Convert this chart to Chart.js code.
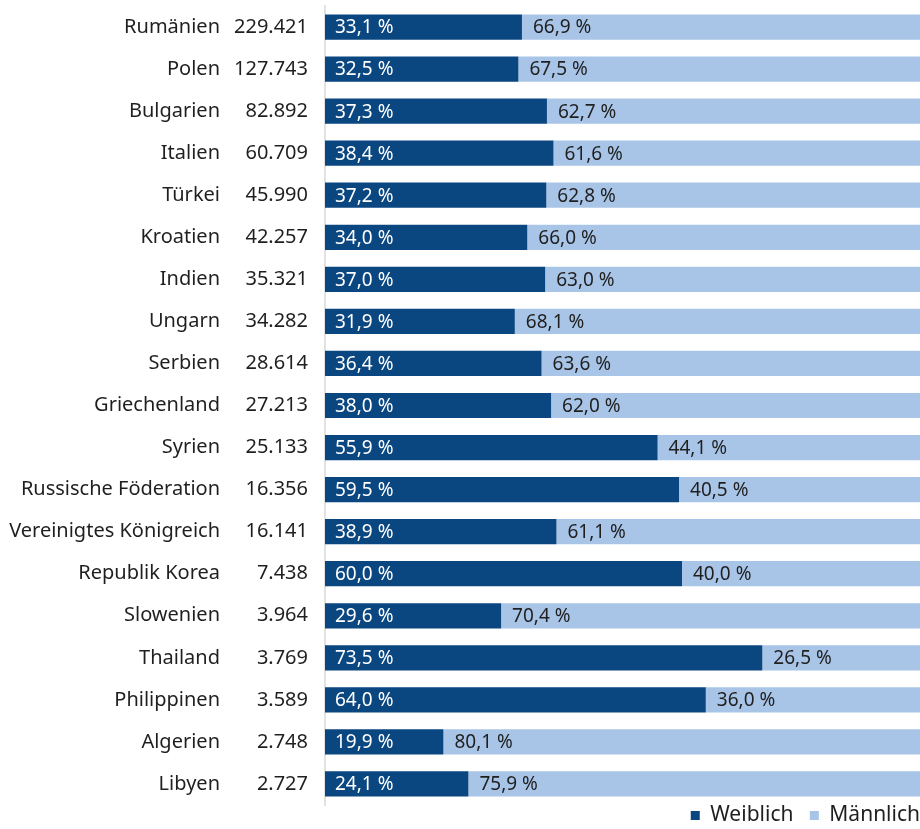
<!DOCTYPE html>
<html>
<head>
<meta charset="utf-8">
<script src="https://cdn.jsdelivr.net/npm/chart.js@4"></script>
<style>
  html, body { margin: 0; padding: 0; background: #ffffff; }
  #wrap { width: 920px; height: 829px; }
</style>
</head>
<body>
<div id="wrap"><canvas id="chart"></canvas></div>
<script>
// --- Data ---
const countries = [
    'Rumänien', 'Polen', 'Bulgarien', 'Italien', 'Türkei', 'Kroatien', 'Indien',
    'Ungarn', 'Serbien', 'Griechenland', 'Syrien', 'Russische Föderation',
    'Vereinigtes Königreich', 'Republik Korea', 'Slowenien', 'Thailand',
    'Philippinen', 'Algerien', 'Libyen'
];
const totals = [
    229421, 127743, 82892, 60709, 45990, 42257, 35321, 34282, 28614, 27213,
    25133, 16356, 16141, 7438, 3964, 3769, 3589, 2748, 2727
];
const female = [
    33.1, 32.5, 37.3, 38.4, 37.2, 34.0, 37.0, 31.9, 36.4, 38.0,
    55.9, 59.5, 38.9, 60.0, 29.6, 73.5, 64.0, 19.9, 24.1
];
const male = [
    66.9, 67.5, 62.7, 61.6, 62.8, 66.0, 63.0, 68.1, 63.6, 62.0,
    44.1, 40.5, 61.1, 40.0, 70.4, 26.5, 36.0, 80.1, 75.9
];

const fontFamily = '"Noto Sans", sans-serif';
const textColor = '#1f1f1f';
const darkBlue = '#0a4680';
const lightBlue = '#a8c5e8';

// thousands separator with a dot
const fmtTotal = n => String(n).replace(/\B(?=(\d{3})+(?!\d))/g, '.');
const fmtPct = v => v.toFixed(1).replace('.', ',') + ' %';

// fixed width for the label columns, and no extra top/bottom padding from the tick labels
const fixAxis = width => scale => {
    scale.width = width;
    scale.paddingTop = 0;
    scale.paddingBottom = 0;
};

// draws the percentage text at the start of each bar segment
const barLabels = {
    id: 'barLabels',
    afterDatasetsDraw(chart) {
        const ctx = chart.ctx;
        ctx.save();
        ctx.font = '19px ' + fontFamily;
        ctx.textBaseline = 'middle';
        ctx.textAlign = 'left';
        chart.data.datasets.forEach((ds, i) => {
            const meta = chart.getDatasetMeta(i);
            ctx.fillStyle = i === 0 ? '#ffffff' : textColor;
            meta.data.forEach((bar, j) => {
                ctx.fillText(fmtPct(ds.data[j]), bar.base + (i === 0 ? 10 : 11), bar.y + 1);
            });
        });
        ctx.restore();
    }
};

new Chart(document.getElementById('chart'), {
    type: 'bar',
    data: {
        labels: countries,
        datasets: [
            { label: 'Weiblich', data: female, backgroundColor: darkBlue, borderWidth: 0 },
            { label: 'Männlich', data: male, backgroundColor: lightBlue, borderWidth: 0 }
        ]
    },
    options: {
        indexAxis: 'y',
        responsive: true,
        maintainAspectRatio: false,
        animation: false,
        layout: { padding: { top: 6, right: 0, left: 0, bottom: -7 } },
        categoryPercentage: 1,
        barPercentage: 0.6,
        scales: {
            x: { display: false, stacked: true, min: 0, max: 100 },
            y: {
                stacked: true,
                position: 'left',
                weight: 1,
                grid: { display: false, drawTicks: false },
                border: { display: false },
                ticks: { color: textColor, font: { family: fontFamily, size: 20 }, padding: 5 },
                afterFit: fixAxis(225)
            },
            y2: {
                type: 'category',
                position: 'left',
                weight: 0,
                offset: true,
                labels: totals.map(fmtTotal),
                grid: { display: false, drawTicks: false },
                border: { display: true, color: '#e2e2e2', width: 2 },
                ticks: { color: textColor, font: { family: fontFamily, size: 20 }, padding: 17 },
                afterFit: fixAxis(100)
            }
        },
        plugins: {
            tooltip: { enabled: false },
            legend: {
                position: 'bottom',
                align: 'end',
                labels: {
                    color: textColor,
                    font: { family: fontFamily, size: 21 },
                    usePointStyle: true,
                    pointStyle: 'rect',
                    boxWidth: 9,
                    boxHeight: 9,
                    padding: 0,
                    // a little room between the two legend entries
                    generateLabels(chart) {
                        const items = Chart.defaults.plugins.legend.labels.generateLabels(chart);
                        items[0].text += '   ';
                        return items;
                    }
                }
            }
        }
    },
    plugins: [barLabels]
});
</script>
</body>
</html>
